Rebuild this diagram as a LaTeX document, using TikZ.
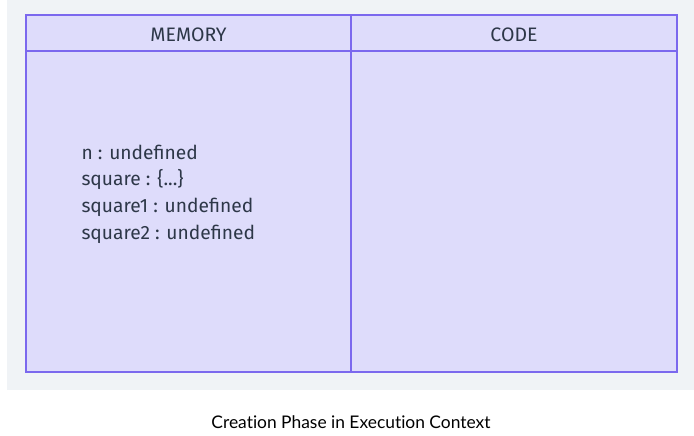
\documentclass[tikz,border=0pt]{standalone}
\usepackage{fontspec}
\setmainfont{Fira Sans}
\newfontfamily\captionfont[Ligatures={NoCommon,NoRequired,NoContextual}]{Lato}
\definecolor{panelbg}{HTML}{F0F3F6}
\definecolor{boxfill}{HTML}{DEDCFB}
\definecolor{boxline}{HTML}{7B68EE}
\definecolor{inktext}{HTML}{2D3748}
\begin{document}
\begin{tikzpicture}[x=1pt,y=-1pt,
  cell/.style={draw=boxline,line width=1.3pt,fill=boxfill},
  head/.style={text=inktext,font=\fontsize{19.5}{22}\selectfont},
  entry/.style={text=inktext,font=\fontsize{19.2}{22}\selectfont,anchor=west},
  caption/.style={text=black,font=\captionfont\fontsize{17.4}{20}\selectfont}]
  \useasboundingbox (0,0) rectangle (694,436);
  \fill[white] (0,0) rectangle (694,436);
  % grey panel behind the table
  \fill[panelbg] (7,0) rectangle (694,390);
  % memory and code columns
  \draw[cell] (26,15) rectangle (351,372);
  \draw[cell] (351,15) rectangle (677,372);
  \draw[draw=boxline,line width=1.3pt] (26,51) -- (677,51);
  \node[head] (mem) at (188.5,35) {MEMORY};
  \node[head] (code) at (514,35) {CODE};
  % variable bindings
  \node[entry] (v1) at (78,152) {n : undefined};
  \node[entry] (v2) at (78,180) {square : \{...\}};
  \node[entry] (v3) at (78,207) {square1 : undefined};
  \node[entry] (v4) at (78,234) {square2 : undefined};
  \node[caption] (cap) at (351,422) {Creation Phase in Execution Context};
\end{tikzpicture}
\end{document}
